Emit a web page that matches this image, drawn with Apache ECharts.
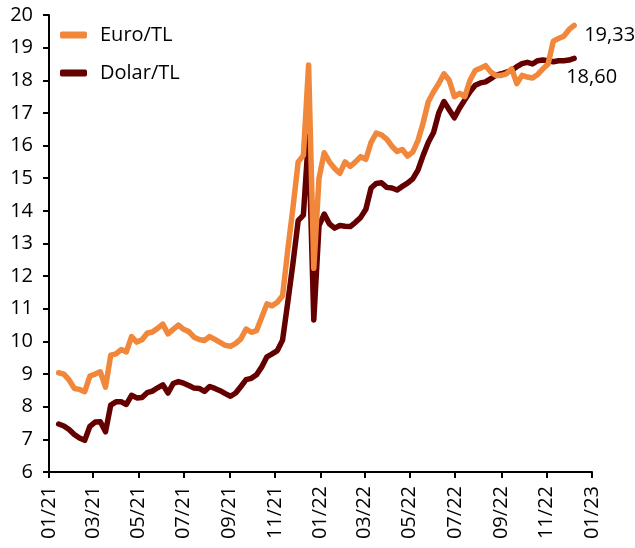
<!DOCTYPE html>
<html>
<head>
<meta charset="utf-8">
<script src="https://cdn.jsdelivr.net/npm/echarts@6/dist/echarts.min.js"></script>
<style>
	html, body { margin: 0; padding: 0; background: #fff; }
	#chart { width: 635px; height: 548px; }
</style>
</head>
<body>
<div id="chart"></div>
<script>
// haftalik kur verisi (ilk hafta 14.01.2021)
var startDate = Date.UTC(2021, 0, 14)

var euroTL = [
	9.04, 9.00, 8.82, 8.56, 8.53, 8.46, 8.94, 9.00, 9.07, 8.60,
	9.58, 9.62, 9.75, 9.68, 10.15, 9.98, 10.05, 10.25, 10.29, 10.40,
	10.53, 10.23, 10.37, 10.50, 10.37, 10.30, 10.13, 10.06, 10.03, 10.15,
	10.06, 9.97, 9.88, 9.85, 9.94, 10.08, 10.38, 10.28, 10.33, 10.74,
	11.15, 11.09, 11.20, 11.40, 12.80, 14.10, 15.50, 15.70, 18.47, 12.24,
	15.00, 15.78, 15.50, 15.30, 15.15, 15.50, 15.36, 15.50, 15.66, 15.58,
	16.10, 16.38, 16.33, 16.20, 15.98, 15.82, 15.88, 15.68, 15.80, 16.15,
	16.70, 17.35, 17.65, 17.90, 18.20, 18.00, 17.50, 17.60, 17.50, 18.00,
	18.30, 18.37, 18.45, 18.25, 18.15, 18.15, 18.20, 18.35, 17.90, 18.15,
	18.10, 18.07, 18.18, 18.35, 18.50, 19.20, 19.28, 19.35, 19.55, 19.68
]

var dolarTL = [
	7.47, 7.41, 7.30, 7.15, 7.04, 6.97, 7.40, 7.53, 7.54, 7.23,
	8.05, 8.15, 8.15, 8.07, 8.35, 8.27, 8.28, 8.43, 8.48, 8.58,
	8.67, 8.42, 8.71, 8.77, 8.72, 8.65, 8.57, 8.56, 8.47, 8.62,
	8.56, 8.49, 8.40, 8.32, 8.42, 8.62, 8.83, 8.87, 8.98, 9.22,
	9.53, 9.62, 9.72, 10.04, 11.20, 12.40, 13.70, 13.87, 16.30, 10.66,
	13.55, 13.90, 13.60, 13.47, 13.55, 13.53, 13.52, 13.65, 13.80, 14.05,
	14.70, 14.84, 14.86, 14.72, 14.70, 14.64, 14.75, 14.85, 14.98, 15.25,
	15.70, 16.10, 16.40, 17.00, 17.35, 17.10, 16.85, 17.15, 17.40, 17.65,
	17.85, 17.92, 17.95, 18.05, 18.16, 18.20, 18.25, 18.30, 18.42, 18.51,
	18.55, 18.50, 18.60, 18.62, 18.60, 18.57, 18.60, 18.60, 18.62, 18.67
]

// son deger etiketleri
var euroLastLabel = '19,33'
var dolarLastLabel = '18,60'

// x ekseni: iki ayda bir etiket
var xTickMonths = [
	[2021, 0], [2021, 2], [2021, 4], [2021, 6], [2021, 8], [2021, 10],
	[2022, 0], [2022, 2], [2022, 4], [2022, 6], [2022, 8], [2022, 10], [2023, 0]
]
var yTicks = [6, 7, 8, 9, 10, 11, 12, 13, 14, 15, 16, 17, 18, 19, 20]

var week = 7 * 24 * 3600 * 1000
var euroData = []
var dolarData = []
for (var i = 0; i < euroTL.length; i++) {
	var t = startDate + i * week
	euroData.push([t, euroTL[i]])
	dolarData.push([t, dolarTL[i]])
}
var xTicks = xTickMonths.map(function (m) {
	return Date.UTC(m[0], m[1], 1)
})

function pad(n) {
	return n < 10 ? '0' + n : '' + n
}

var fontName = 'Open Sans'
var euroColor = '#f0873a'
var dolarColor = '#650000'

var chart = echarts.init(document.getElementById('chart'))
var option = {
	animation: false,
	backgroundColor: '#fff',
	textStyle: { fontFamily: fontName },
	grid: { left: 49, top: 15, right: 43, bottom: 76, containLabel: false },
	legend: {
		data: ['Euro/TL', 'Dolar/TL'],
		orient: 'vertical',
		left: 55,
		top: 20,
		itemWidth: 27,
		itemHeight: 7,
		itemGap: 18,
		icon: 'roundRect',
		textStyle: { fontFamily: fontName, fontSize: 20, color: '#000', padding: [0, 0, 0, 8] }
	},
	xAxis: {
		// zaman ekseni yerine timestamp ile value eksen (ozel tick'ler icin)
		type: 'value',
		min: xTicks[0],
		max: xTicks[xTicks.length - 1],
		splitLine: { show: false },
		axisLine: { lineStyle: { color: '#000', width: 2 } },
		axisTick: { show: true, length: 6, lineStyle: { color: '#000', width: 2 }, customValues: xTicks },
		axisLabel: {
			customValues: xTicks,
			rotate: 90,
			margin: 14,
			fontSize: 20,
			fontFamily: fontName,
			color: '#000',
			formatter: function (v) {
				var d = new Date(v)
				return pad(d.getUTCMonth() + 1) + '/' + String(d.getUTCFullYear()).slice(2)
			}
		}
	},
	yAxis: {
		type: 'value',
		min: yTicks[0],
		max: yTicks[yTicks.length - 1],
		interval: 1,
		splitLine: { show: false },
		axisLine: { show: true, lineStyle: { color: '#000', width: 2 } },
		axisTick: { show: true, length: 6, lineStyle: { color: '#000', width: 2 } },
		axisLabel: { margin: 16, fontSize: 20, fontFamily: fontName, color: '#000' }
	},
	series: [
		{
			name: 'Dolar/TL',
			type: 'line',
			data: dolarData,
			showSymbol: false,
			color: dolarColor,
			lineStyle: { width: 5.5, color: dolarColor, cap: 'round', join: 'round' },
			endLabel: {
				show: true,
				formatter: function () { return dolarLastLabel },
				offset: [-16, 19],
				fontSize: 20,
				fontFamily: fontName,
				color: '#000'
			}
		},
		{
			name: 'Euro/TL',
			type: 'line',
			data: euroData,
			showSymbol: false,
			color: euroColor,
			lineStyle: { width: 5.5, color: euroColor, cap: 'round', join: 'round' },
			endLabel: {
				show: true,
				formatter: function () { return euroLastLabel },
				offset: [2, 10],
				fontSize: 20,
				fontFamily: fontName,
				color: '#000'
			}
		}
	]
}
chart.setOption(option)
</script>
</body>
</html>
